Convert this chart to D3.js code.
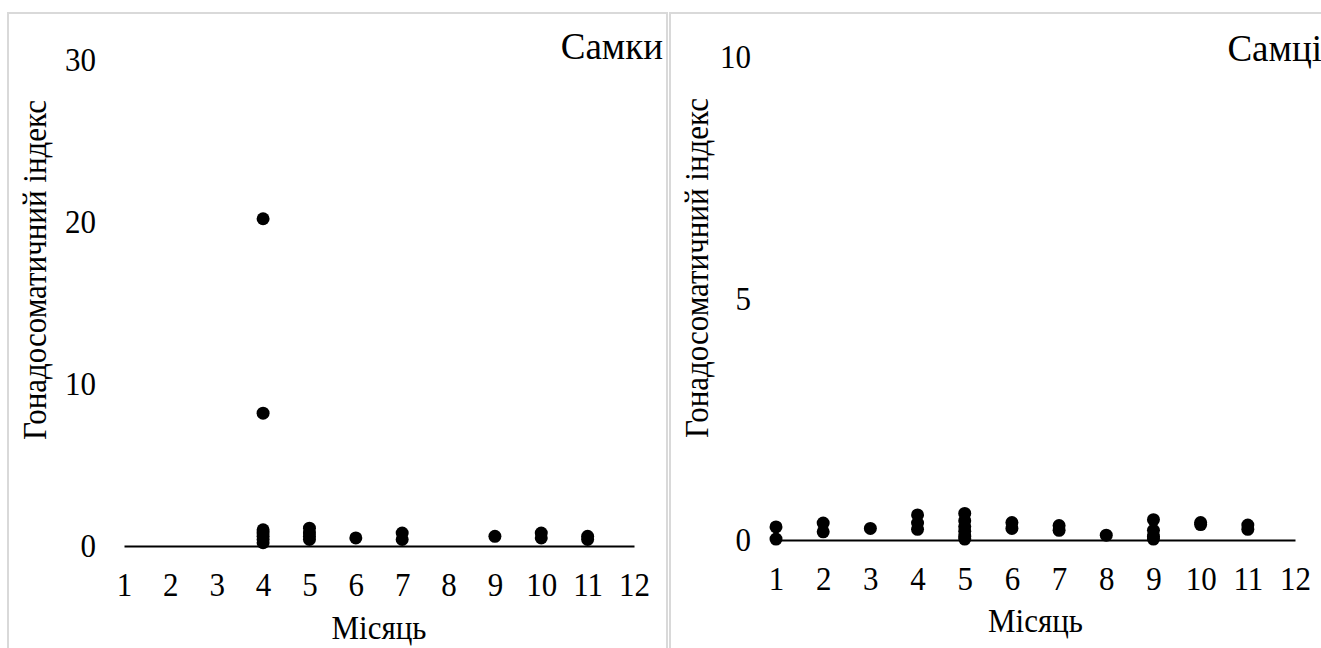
<!DOCTYPE html>
<html>
<head>
<meta charset="utf-8">
<script src="https://cdn.jsdelivr.net/npm/d3@7"></script>
</head>
<body style="margin:0">
<svg id="chart" width="1321" height="648"></svg>
<script>
// ---- data ----
const monthTicks = [1, 2, 3, 4, 5, 6, 7, 8, 9, 10, 11, 12];
const femaleYTicks = [0, 10, 20, 30];
const maleYTicks = [0, 5, 10];

const femaleMonth = [4, 4, 4, 4, 4, 4, 4, 5, 5, 5, 5, 6, 7, 7, 9, 10, 10, 11, 11];
const femaleGSI   = [20.2, 8.2, 1.0, 0.8, 0.6, 0.4, 0.2, 1.1, 0.8, 0.6, 0.4, 0.5, 0.8, 0.4, 0.6, 0.8, 0.5, 0.6, 0.4];

const maleMonth = [1, 1, 2, 2, 3, 4, 4, 4, 5, 5, 5, 5, 5, 5, 6, 6, 7, 7, 8, 9, 9, 9, 9, 10, 10, 11, 11];
const maleGSI   = [0.27, 0.02, 0.35, 0.17, 0.24, 0.52, 0.35, 0.22, 0.55, 0.4, 0.28, 0.18, 0.08, 0.02,
                   0.36, 0.24, 0.3, 0.2, 0.1, 0.42, 0.2, 0.08, 0.02, 0.36, 0.32, 0.31, 0.22];

const yTitle = "Гонадосоматичний індекс";
const xTitle = "Місяць";

const svg = d3.select("#chart").style("display", "block");
const FS = 31;
const SY = 1.1;   // slight vertical stretch of the original's lettering
const FONT = "Liberation Serif";

function styleText(sel, size) {
  sel.attr("font-size", size || FS)
     .attr("font-family", FONT)
     .style("font-family", `'${FONT}'`)
     .attr("fill", "#000");
}

function panel(cfg) {
  const g = svg.append("g");
  g.append("rect")
    .attr("x", cfg.frame[0]).attr("y", cfg.frame[1])
    .attr("width", cfg.frame[2]).attr("height", cfg.frame[3])
    .attr("fill", "#fff").attr("stroke", "#d9d9d9").attr("stroke-width", 2);

  const x = d3.scaleLinear().domain([1, 12]).range(cfg.xr);
  const y = d3.scaleLinear().domain(cfg.yd).range(cfg.yr);

  const xa = g.append("g")
    .attr("transform", `translate(0,${y(0)})`)
    .call(d3.axisBottom(x).tickValues(monthTicks).tickSize(0).tickPadding(23).tickFormat(d3.format("d")));
  xa.attr("font-family", FONT).attr("font-size", FS);
  xa.select(".domain").attr("stroke", "#000").attr("stroke-width", 2);
  styleText(xa.selectAll("text"));
  xa.selectAll("text").attr("transform", `scale(1,${SY})`);

  const ya = g.append("g")
    .attr("transform", `translate(${cfg.yLabelX},0)`)
    .call(d3.axisLeft(y).tickValues(cfg.yTicks).tickSize(0).tickPadding(0).tickFormat(d3.format("d")));
  ya.attr("font-family", FONT).attr("font-size", FS);
  ya.select(".domain").remove();
  styleText(ya.selectAll("text"));
  ya.selectAll("text").attr("transform", `scale(1,${SY})`);

  g.append("g").selectAll("circle")
    .data(cfg.months.map((m, i) => [m, cfg.vals[i]]))
    .join("circle")
    .attr("cx", d => x(d[0]))
    .attr("cy", d => y(d[1]))
    .attr("r", 6.5)
    .attr("fill", "#000");

  styleText(g.append("text")
    .attr("transform", `translate(${cfg.yTitlePos[0]},${cfg.yTitlePos[1]}) rotate(-90) scale(1,${SY})`)
    .attr("text-anchor", "middle")
    .text(yTitle));

  styleText(g.append("text")
    .attr("transform", `translate(${(cfg.xr[0] + cfg.xr[1]) / 2},${cfg.xTitleY}) scale(1,${SY})`)
    .attr("text-anchor", "middle")
    .text(xTitle));

  styleText(g.append("text")
    .attr("x", cfg.labelPos[0]).attr("y", cfg.labelPos[1])
    .attr("text-anchor", "end")
    .text(cfg.label), 37);
}

panel({
  frame: [8, 13, 659, 660],
  xr: [124, 634],
  yd: [0, 30], yr: [546, 60],
  yTicks: femaleYTicks,
  yLabelX: 96,
  months: femaleMonth, vals: femaleGSI,
  yTitlePos: [46, 270],
  xTitleY: 639,
  label: "Самки", labelPos: [663, 59]
});

panel({
  frame: [670, 13, 700, 660],
  xr: [776, 1295],
  yd: [0, 10], yr: [540, 57],
  yTicks: maleYTicks,
  yLabelX: 751,
  months: maleMonth, vals: maleGSI,
  yTitlePos: [708, 268],
  xTitleY: 632,
  label: "Самці", labelPos: [1322, 61]
});
</script>
</body>
</html>
